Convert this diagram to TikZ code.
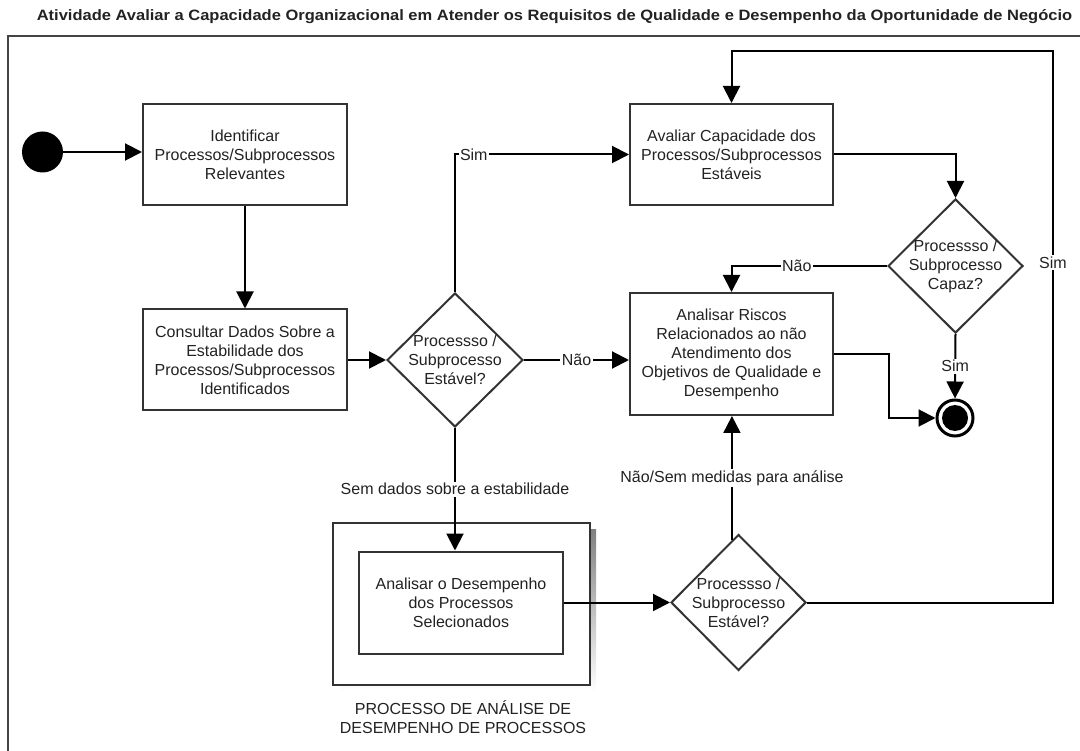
\documentclass[tikz,border=0pt]{standalone}
\usepackage{fontspec}
\setmainfont{Liberation Sans}
\usetikzlibrary{shapes.geometric,arrows.meta,calc}
\definecolor{ink}{HTML}{222222}
\definecolor{edge}{HTML}{333333}
\definecolor{frame}{HTML}{444444}
\definecolor{shade}{HTML}{A0A0A0}
\begin{document}
\begin{tikzpicture}[x=1pt,y=-1pt,
  txt/.style={font=\fontsize{16}{19}\selectfont, text=ink, align=center},
  box/.style={draw=edge, line width=2pt, fill=white, rectangle, inner sep=0pt, txt},
  dia/.style={draw=edge, line width=2pt, fill=white, diamond, inner sep=0pt},
  lbl/.style={fill=white, inner sep=1.5pt, txt},
  arr/.style={draw=black, line width=2pt, -{Triangle[length=17pt,width=17pt]}},
  conn/.style={draw=black, line width=2pt}]
\useasboundingbox (0,0) rectangle (1080,751);
\clip (0,0) rectangle (1080,751);

% title
\node[anchor=base, font=\fontsize{15}{18}\selectfont\bfseries, text=ink, inner sep=0pt] (title) at (554.5,20.7)
  {\scalebox{1.1}[1]{Atividade Avaliar a Capacidade Organizacional em Atender os Requisitos de Qualidade e Desempenho da Oportunidade de Negócio}};

% frame
\draw[frame, line width=2.5pt] (8,760) -- (8,36) -- (1090,36);

% nodes
\node[circle, fill=black, minimum size=41pt, inner sep=0pt] (start) at (42.5,152) {};
\node[box, minimum width=204pt, minimum height=101pt] (b1) at (245,155) {Identificar\\Processos/Subprocessos\\Relevantes};
\node[box, minimum width=204pt, minimum height=101pt] (b2) at (245,360) {Consultar Dados Sobre a\\Estabilidade dos\\Processos/Subprocessos\\Identificados};
\node[dia, minimum width=136pt, minimum height=134pt] (d1) at (455,360) {};
\node[txt, inner sep=0pt] (d1t) at (d1) {Processso /\\Subprocesso\\Estável?};
\node[box, minimum width=203pt, minimum height=101pt] (b3) at (731.5,154.5) {Avaliar Capacidade dos\\Processos/Subprocessos\\Estáveis};
\node[box, minimum width=203pt, minimum height=122pt] (b4) at (731.5,354) {Analisar Riscos\\Relacionados ao não\\Atendimento dos\\Objetivos de Qualidade e\\Desempenho};
\node[dia, minimum width=135pt, minimum height=134pt] (d2) at (955.5,266) {};
\node[txt, inner sep=0pt] (d2t) at (d2) {Processso /\\Subprocesso\\Capaz?};
\node[circle, draw=black, line width=3pt, minimum size=36pt, inner sep=0pt] (fin) at (955,418) {};
\node[circle, fill=black, minimum size=26pt, inner sep=0pt] (finin) at (fin) {};

% subprocess container
\fill[shade] (339,529) rectangle (596,691);
\node[draw=edge, line width=2pt, fill=white, minimum width=257pt, minimum height=162pt, inner sep=0pt] (cont) at (461.5,604) {};
\node[box, minimum width=204pt, minimum height=102pt] (b5) at (461,602.5) {Analisar o Desempenho\\dos Processos\\Selecionados};
\node[txt, inner sep=0pt] (contlbl) at (463,717.5) {PROCESSO DE ANÁLISE DE\\DESEMPENHO DE PROCESSOS};
\node[dia, minimum width=135pt, minimum height=136pt] (d3) at (738.5,602.5) {};
\node[txt, inner sep=0pt] (d3t) at (d3) {Processso /\\Subprocesso\\Estável?};

% coordinates
\coordinate (loopc) at (1053,51);

% connectors
\draw[arr] (start.east) -- (start.east -| b1.west);
\draw[arr] (b1.south) -- (b2.north);
\draw[arr] (b2.east) -- (d1.west);
\draw[arr] (d1.north) |- node[lbl, pos=0.554] {Sim} (b3.west);
\draw[arr] (d1.east) -- node[lbl, pos=0.5] {Não} (d1.east -| b4.west);
\draw[arr] (b3.east) -| (d2.north);
\draw[arr] (d2.west) -| node[lbl, pos=0.29] {Não} (b4.north);
\draw[arr] (d2.south) -- node[lbl, pos=0.5] {Sim} (fin.north);
\draw[arr] (b4.east) -- ++(55,0) |- (fin.west);
\draw[arr] (d1.south) -- node[lbl, pos=0.5] {Sem dados sobre a estabilidade} (d1.south |- b5.north);
\draw[arr] (b5.east) -- (d3.west);
\draw[arr] (d3.96) -- node[lbl, pos=0.5] {Não/Sem medidas para análise} (d3.96 |- b4.south);
\draw[arr] (d3.east) -| node[lbl, pos=0.808] {Sim} (loopc) -| (b3.north);
\end{tikzpicture}
\end{document}
